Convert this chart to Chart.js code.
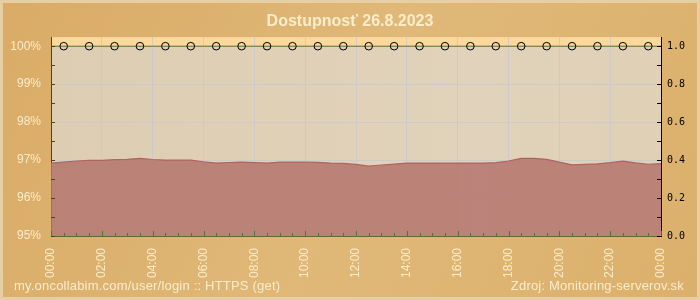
<!DOCTYPE html>
<html>
<head>
<meta charset="utf-8">
<script src="https://cdn.jsdelivr.net/npm/chart.js@4/dist/chart.umd.min.js"></script>
<style>
  html, body { margin: 0; padding: 0; background: #deb472; }
  #wrap { width: 700px; height: 300px; }
</style>
</head>
<body>
<div id="wrap"><canvas id="availChart" width="700" height="300"></canvas></div>
<script>
// half-hour slots over the day
const times = ['00:00','00:30','01:00','01:30','02:00','02:30','03:00','03:30','04:00','04:30',
  '05:00','05:30','06:00','06:30','07:00','07:30','08:00','08:30','09:00','09:30',
  '10:00','10:30','11:00','11:30','12:00','12:30','13:00','13:30','14:00','14:30',
  '15:00','15:30','16:00','16:30','17:00','17:30','18:00','18:30','19:00','19:30',
  '20:00','20:30','21:00','21:30','22:00','22:30','23:00','23:30','00:00'];

// availability in %, measured every hour (markers on the half hour)
const availability = [100,100,100,100,100,100,100,100,100,100,100,100,100,100,100,100,100,100,100,100,
  100,100,100,100,100,100,100,100,100,100,100,100,100,100,100,100,100,100,100,100,
  100,100,100,100,100,100,100,100,100];

// response time in seconds (right axis)
const responseTime = [0.384,0.389,0.395,0.398,0.398,0.402,0.404,0.409,0.403,0.400,
  0.400,0.400,0.391,0.384,0.387,0.389,0.386,0.384,0.389,0.389,
  0.389,0.388,0.384,0.382,0.377,0.368,0.374,0.379,0.384,0.384,
  0.384,0.384,0.384,0.384,0.384,0.386,0.395,0.409,0.409,0.404,
  0.389,0.375,0.377,0.380,0.386,0.394,0.385,0.378,0.381];

const pctTicks = [95, 95.5, 96, 96.5, 97, 97.5, 98, 98.5, 99, 99.5, 100];
const secTicks = [0, 0.1, 0.2, 0.3, 0.4, 0.5, 0.6, 0.7, 0.8, 0.9, 1.0];

const cream = '#fbecca';

const backdrop = {
  id: 'backdrop',
  beforeDraw(chart) {
    const {ctx, chartArea: a, scales} = chart;
    ctx.save();
    let g = ctx.createLinearGradient(0, 0, 700, 300);
    g.addColorStop(0, '#d9ab66');
    g.addColorStop(0.5, '#e0b878');
    g.addColorStop(1, '#dcb06c');
    ctx.fillStyle = g;
    ctx.fillRect(0, 0, 700, 300);
    ctx.strokeStyle = '#e6cfa5';
    ctx.lineWidth = 3;
    ctx.strokeRect(1.5, 1.5, 697, 297);
    // plot background
    g = ctx.createLinearGradient(a.left, 0, a.right, 0);
    g.addColorStop(0, '#ddcdb2');
    g.addColorStop(0.7, '#e1d3bb');
    g.addColorStop(1, '#dfd0b6');
    ctx.fillStyle = g;
    ctx.fillRect(a.left, a.top, a.right - a.left, a.bottom - a.top);
    const y100 = scales.y.getPixelForValue(100);
    ctx.fillStyle = '#fcd89c';
    ctx.fillRect(a.left, a.top, a.right - a.left, y100 - a.top);
    ctx.restore();
  },
  afterDatasetsDraw(chart) {
    const {ctx, chartArea: a, scales} = chart;
    ctx.save();
    ctx.lineWidth = 1;
    ctx.strokeStyle = '#5a3e1a';
    pctTicks.forEach(v => {
      const y = Math.round(scales.y.getPixelForValue(v)) + 0.5;
      ctx.beginPath(); ctx.moveTo(a.left, y); ctx.lineTo(a.left + 4, y); ctx.stroke();
    });
    ctx.strokeStyle = '#000';
    secTicks.forEach(v => {
      const y = Math.round(scales.y1.getPixelForValue(v)) + 0.5;
      ctx.beginPath(); ctx.moveTo(a.right - 4, y); ctx.lineTo(a.right, y); ctx.stroke();
    });
    ctx.strokeStyle = '#5b6b3a';
    times.forEach((t, i) => {
      const x = Math.round(scales.x.getPixelForValue(i)) + 0.5;
      const len = i % 4 === 0 ? 5 : 3;
      ctx.beginPath(); ctx.moveTo(x, a.bottom); ctx.lineTo(x, a.bottom - len); ctx.stroke();
    });
    // footer
    ctx.fillStyle = cream;
    ctx.font = '13px "Liberation Sans"';
    ctx.letterSpacing = '0.2px';
    ctx.textBaseline = 'alphabetic';
    ctx.textAlign = 'left';
    ctx.fillText('my.oncollabim.com/user/login :: HTTPS (get)', 14, 290);
    ctx.textAlign = 'right';
    ctx.fillText('Zdroj: Monitoring-serverov.sk', 684, 290);
    ctx.restore();
  }
};

new Chart(document.getElementById('availChart'), {
  type: 'line',
  data: {
    labels: times,
    datasets: [{
      label: 'Dostupnosť',
      data: availability,
      yAxisID: 'y',
      borderColor: '#5f6d2a',
      borderWidth: 1,
      pointRadius: ctx => ctx.dataIndex % 2 === 1 ? 3.8 : 0,
      pointBorderColor: '#000',
      pointBackgroundColor: 'rgba(0,0,0,0)',
      pointBorderWidth: 1,
      fill: false
    }, {
      label: 'Odozva',
      data: responseTime,
      yAxisID: 'y1',
      borderColor: '#b0645c',
      borderWidth: 1.2,
      backgroundColor: 'rgba(180,118,110,0.86)',
      pointRadius: 0,
      fill: 'origin'
    }]
  },
  options: {
    responsive: false,
    animation: false,
    layout: { padding: 0 },
    plugins: {
      legend: { display: false },
      tooltip: { enabled: false },
      title: {
        display: true,
        text: 'Dostupnosť 26.8.2023',
        color: cream,
        font: { family: 'Liberation Sans', size: 16, weight: 'bold' },
        padding: { top: 12, bottom: 6 }
      }
    },
    scales: {
      x: {
        offset: false,
        afterFit(scale) { scale.height = 64; },
        grid: {
          color: ctx => (ctx.index % 4 === 0 ? 'rgba(200,200,205,0.8)' : 'rgba(0,0,0,0)'),
          drawTicks: false
        },
        border: { color: '#5b6b3a', width: 1 },
        ticks: {
          autoSkip: false,
          minRotation: 90,
          maxRotation: 90,
          padding: 12,
          color: cream,
          font: { family: 'Liberation Sans', size: 12 },
          callback: (v, i) => (i % 4 === 0 ? times[i] : '')
        }
      },
      y: {
        position: 'left',
        min: 95,
        max: 100.237,
        afterFit(scale) { scale.width = 51; },
        grid: { color: 'rgba(200,200,205,0.8)', drawTicks: false },
        border: { color: '#5a3e1a', width: 1 },
        ticks: {
          stepSize: 1,
          includeBounds: false,
          padding: 10,
          color: cream,
          font: { family: 'Liberation Sans', size: 12 },
          callback: v => v + '%'
        }
      },
      y1: {
        position: 'right',
        min: 0,
        max: 1.047,
        afterFit(scale) { scale.width = 39; },
        grid: { drawOnChartArea: false, drawTicks: false },
        border: { color: '#000', width: 1 },
        ticks: {
          stepSize: 0.2,
          includeBounds: false,
          padding: 6,
          color: '#000',
          font: { family: 'DejaVu Sans Mono', size: 10 },
          callback: v => v.toFixed(1)
        }
      }
    }
  },
  plugins: [backdrop]
});
</script>
</body>
</html>
